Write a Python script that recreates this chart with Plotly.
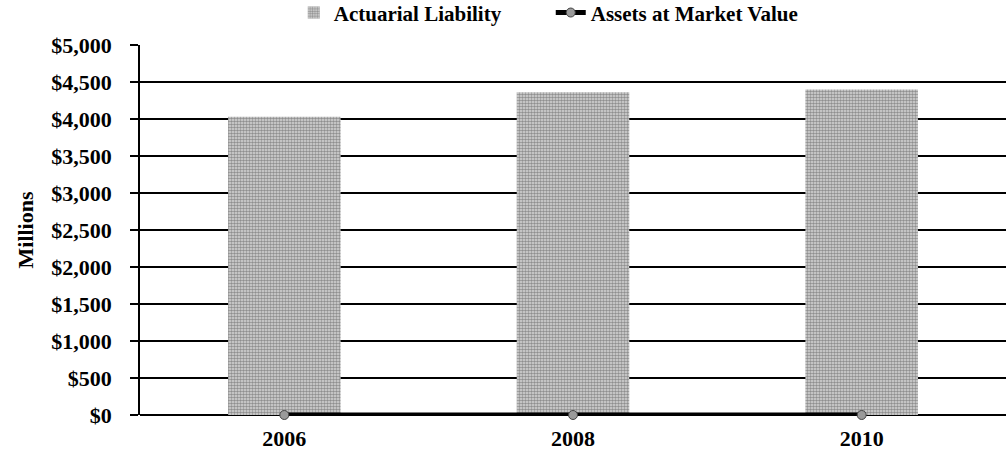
import plotly.graph_objects as go

years = ["2006", "2008", "2010"]
actuarial_liability = [4030, 4360, 4400]
assets_market_value = [0, 0, 0]
tick_vals = [0, 500, 1000, 1500, 2000, 2500, 3000, 3500, 4000, 4500, 5000]
tick_text = ["$0", "$500", "$1,000", "$1,500", "$2,000", "$2,500", "$3,000",
             "$3,500", "$4,000", "$4,500", "$5,000"]

font = "Liberation Serif"

fig = go.Figure()
fig.add_trace(go.Bar(
    x=years, y=actuarial_liability, name="Actuarial Liability",
    width=0.39,
    marker=dict(color="#b8b8b8", line=dict(width=0),
                pattern=dict(shape=".", fgcolor="#454545", bgcolor="#d8d8d8",
                             size=3, solidity=0.55)),
))
fig.add_trace(go.Scatter(
    x=years, y=assets_market_value, name="Assets at Market Value",
    mode="lines+markers",
    line=dict(color="black", width=5),
    marker=dict(color="#9a9a9a", size=9, symbol="circle",
                line=dict(color="#444", width=1)),
    cliponaxis=False,
))

fig.update_layout(
    width=1006, height=460,
    margin=dict(l=140, r=0, t=45, b=45, autoexpand=False),
    paper_bgcolor="white", plot_bgcolor="white",
    font=dict(family=font, color="black"),
    showlegend=True,
    legend=dict(orientation="h", xref="container", yref="container",
                x=0.292, xanchor="left", y=0.972, yanchor="middle",
                font=dict(size=21, family=font, color="black", weight="bold"),
                itemwidth=30, entrywidth=212, entrywidthmode="pixels",
                traceorder="normal", tracegroupgap=0),
    bargap=0.61,
)
fig.update_xaxes(
    showgrid=False, showline=False, ticks="", automargin=False,
    ticklabelstandoff=8,
    tickfont=dict(size=22, family=font, color="black", weight="bold"),
)
fig.update_yaxes(
    range=[0, 5000], tickvals=tick_vals, ticktext=tick_text, automargin=False,
    showgrid=True, gridcolor="black", gridwidth=1.5,
    showline=True, linecolor="black", linewidth=1.5,
    ticks="outside", ticklen=8, tickcolor="black", tickwidth=1.5,
    ticklabelstandoff=14,
    tickfont=dict(size=22, family=font, color="black", weight="bold"),
    title=dict(text="Millions", font=dict(size=22, family=font, color="black", weight="bold"),
               standoff=12),
    zeroline=True, zerolinecolor="black", zerolinewidth=1.5,
)

fig.write_html(
    "out.html",
    config={"displayModeBar": False},
    post_script="document.body.style.margin='0';document.body.style.overflow='hidden';",
)
